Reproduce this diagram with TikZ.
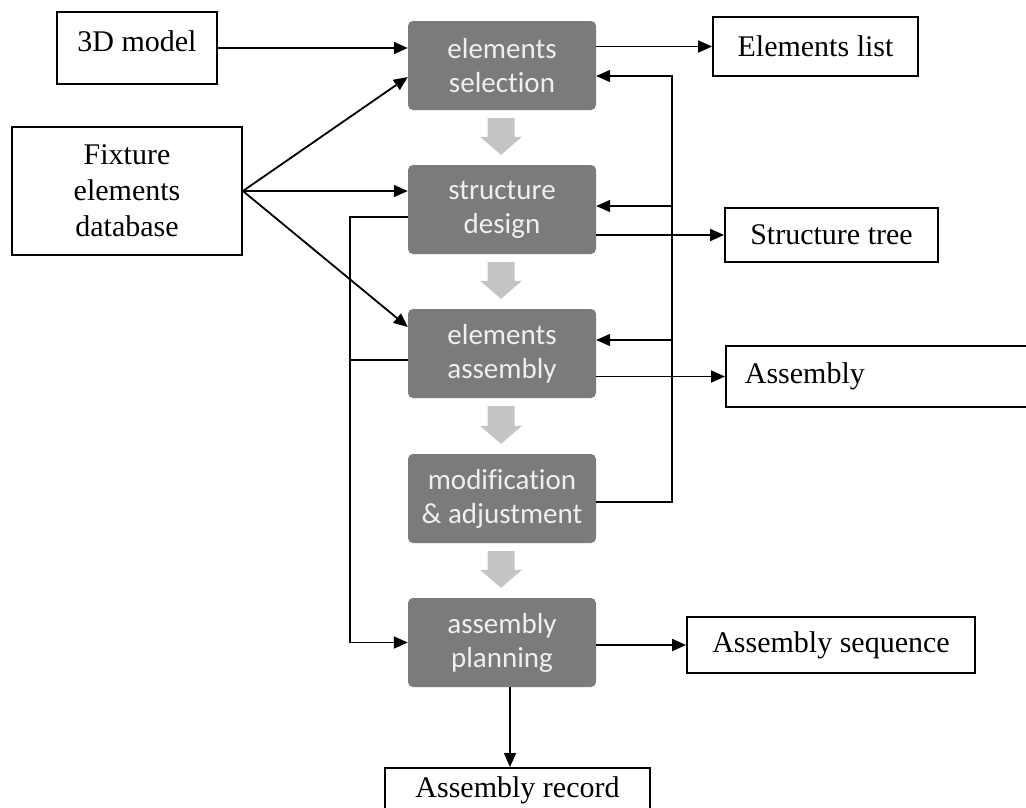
\documentclass[tikz,border=0pt]{standalone}
\usepackage{fontspec}
\setmainfont{Liberation Serif}
\newfontfamily\boxfont[Ligatures=NoCommon]{Carlito}
\usetikzlibrary{calc,arrows.meta}
\definecolor{stepgray}{HTML}{7B7B7B}
\definecolor{steptext}{HTML}{EFEFEF}
\definecolor{flowgray}{HTML}{C4C4C4}

% wide grey arrow between two consecutive process steps
\newcommand\flowstep[2]{%
  \fill[flow] let \p1=($(#1.south)+(-1,8)$), \p2=($(#2.north)+(-1,-10)$) in
    (\x1-13.5pt,\y1) -- (\x1+13.5pt,\y1) -- (\x1+13.5pt,\y2+18pt) --
    (\x1+21pt,\y2+18pt) -- (\x1,\y2) -- (\x1-21pt,\y2+18pt) --
    (\x1-13.5pt,\y2+18pt) -- cycle;}

\begin{document}
\begin{tikzpicture}[x=1pt,y=-1pt,
  stepbox/.style={fill=stepgray, rounded corners=5pt, minimum width=188pt,
    minimum height=89pt, text=steptext, align=center, inner sep=0pt,
    font=\boxfont\fontsize{29}{34}\selectfont},
  databox/.style={draw=black, line width=1.8pt, align=center, inner sep=0pt,
    font=\fontsize{30}{36}\selectfont},
  conn/.style={line width=1.8pt, -{Triangle[length=14pt,width=12pt]}},
  plain/.style={line width=1.8pt},
  flow/.style={fill=flowgray}]

\useasboundingbox (0,0) rectangle (1026,807);
\clip (0,0) rectangle (1026,807);
\fill[white] (0,0) rectangle (1026,807);

% process steps
\node[stepbox] (sel)  at (502,65.5)  {elements\\selection};
\node[stepbox] (des)  at (502,209.5) {structure\\design};
\node[stepbox] (asm)  at (502,353.5) {elements\\assembly};
\node[stepbox] (mod)  at (502,498.5) {modification\\\& adjustment};
\node[stepbox] (plan) at (502,642.5) {assembly\\planning};

\flowstep{sel}{des}
\flowstep{des}{asm}
\flowstep{asm}{mod}
\flowstep{mod}{plan}

% inputs
\node[databox, minimum width=160pt, minimum height=72pt,
      text height=20pt, text depth=14pt] (model) at (137,48) {3D model};
\node[databox, minimum width=230pt, minimum height=128pt]
      (fix) at (127,191) {Fixture\\elements\\database};

% outputs
\node[databox, minimum width=205pt, minimum height=59pt]
      (list) at (815.5,46.5) {Elements list};
\node[databox, minimum width=213pt, minimum height=54pt]
      (tree) at (831.5,235) {Structure tree};
\node[databox, anchor=west, text width=292pt, align=left, inner xsep=19pt,
      minimum height=61pt] (result) at (725,376.5) {Assembly};
\node[databox, minimum width=288pt, minimum height=56pt]
      (seq) at (831,645) {Assembly sequence};
\node[databox, anchor=north, minimum width=265pt, minimum height=45pt]
      (rec) at (517.5,767) {Assembly record};

% input connectors
\draw[conn] (model.east) -- (model.east -| sel.west);
\draw[conn] (fix.east) -- ($(sel.west)+(0,11.5)$);
\draw[conn] (fix.east) -- (fix.east -| des.west);
\draw[conn] (fix.east) -- ($(asm.west)+(0,-26.5)$);

% output connectors
\draw[conn] (list.west -| sel.east) -- (list.west);
\draw[conn] (tree.west -| des.east) -- (tree.west);
\draw[conn] (result.west -| asm.east) -- (result.west);
\draw[conn] (seq.west -| plan.east) -- (seq.west);
\coordinate (pr) at ($(plan.south)+(8,0)$);
\draw[conn] (pr) -- (pr |- rec.north);

% feedback from modification back to the earlier steps
\coordinate (fbx) at (672,0);
\coordinate (selin) at ($(sel.east)+(0,10.5)$);
\coordinate (desin) at ($(des.east)+(0,-3.5)$);
\coordinate (asmin) at ($(asm.east)+(0,-13.5)$);
\coordinate (modout) at ($(mod.east)+(0,3.5)$);
\draw[conn] (modout) -| (fbx |- selin) -- (selin);
\draw[conn] (fbx |- desin) -- (desin);
\draw[conn] (fbx |- asmin) -- (asmin);

% design and assembly results feeding the planning step
\coordinate (lpx) at (350,0);
\coordinate (desout) at ($(des.west)+(0,7.5)$);
\coordinate (asmout) at ($(asm.west)+(0,6.5)$);
\draw[conn] (desout) -| (lpx |- plan.west) -- (plan.west);
\draw[plain] (asmout) -- (lpx |- asmout);
\end{tikzpicture}
\end{document}
